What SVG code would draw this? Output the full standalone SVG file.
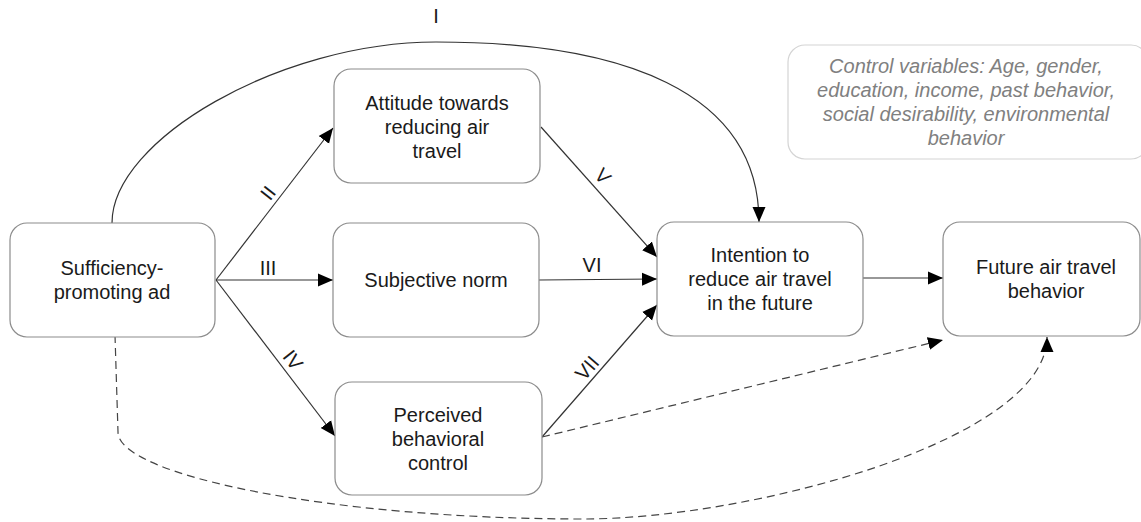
<svg xmlns="http://www.w3.org/2000/svg" width="1141" height="522" viewBox="0 0 1141 522">
<style>
.box{fill:#fff;stroke:#8c8c8c;stroke-width:1.2}
.ctl{fill:#fff;stroke:#d4d4d4;stroke-width:1.2}
.t{font-family:"Liberation Sans",Arial,sans-serif;font-size:20px;fill:#1a1a1a;text-anchor:middle}
.ct{font-family:"Liberation Sans",Arial,sans-serif;font-size:20px;font-style:italic;fill:#808080;text-anchor:middle}
.e{fill:none;stroke:#333;stroke-width:1.2;marker-end:url(#ah)}
.d{fill:none;stroke:#444;stroke-width:1.2;stroke-dasharray:8 5;marker-end:url(#ah)}
.lb{font-family:"Liberation Sans",Arial,sans-serif;font-size:20px;fill:#1a1a1a;text-anchor:middle}
</style>
<defs>
<marker id="ah" markerUnits="userSpaceOnUse" markerWidth="16" markerHeight="14" refX="15" refY="6.5" orient="auto" viewBox="0 0 16 13">
<path d="M0,0 L15,6.5 L0,13 z" fill="#000"/>
</marker>
</defs>
<rect width="1141" height="522" fill="#fff"/>
<g id="connectors">
<path class="e" d="M112,223 C112,140 280,42 436,42 C620,42 759,90 759,222"/>
<path class="e" d="M216,280 L333,128"/>
<path class="e" d="M216,280 L333,280"/>
<path class="e" d="M216,280 L335,436"/>
<path class="e" d="M541,127 L657,257"/>
<path class="e" d="M539,280 L657,279"/>
<path class="e" d="M542,437 L657,305"/>
<path class="e" d="M863,278 L943,278"/>
<path class="d" d="M542,437 L943,340"/>
<path class="d" d="M115,335 L118,432 C118,475 330,519 583,519 C750,519 1047,440 1047,337"/>
<text class="lb" x="436" y="23">I</text>
<text class="lb" x="0" y="0" dy="0.35em" transform="translate(268,193) rotate(-52)">II</text>
<text class="lb" x="268" y="275">III</text>
<text class="lb" x="0" y="0" dy="0.35em" transform="translate(293,360) rotate(52)">IV</text>
<text class="lb" x="0" y="0" dy="0.35em" transform="translate(603,176) rotate(47)">V</text>
<text class="lb" x="592" y="272">VI</text>
<text class="lb" x="0" y="0" dy="0.35em" transform="translate(587,368) rotate(-49)">VII</text>
</g>
<g id="sufficiency">
<rect class="box" x="10" y="223" width="205" height="114" rx="17"/>
<text class="t" x="112" y="275">Sufficiency-</text>
<text class="t" x="112" y="299">promoting ad</text>
</g>
<g id="attitude">
<rect class="box" x="334" y="69" width="206" height="114" rx="17"/>
<text class="t" x="437" y="110">Attitude towards</text>
<text class="t" x="437" y="134">reducing air</text>
<text class="t" x="437" y="158">travel</text>
</g>
<g id="subjective">
<rect class="box" x="333" y="223" width="206" height="114" rx="17"/>
<text class="t" x="436" y="287">Subjective norm</text>
</g>
<g id="perceived">
<rect class="box" x="335" y="382" width="207" height="113" rx="17"/>
<text class="t" x="438" y="422">Perceived</text>
<text class="t" x="438" y="446">behavioral</text>
<text class="t" x="438" y="470">control</text>
</g>
<g id="intention">
<rect class="box" x="657" y="222" width="206" height="114" rx="17"/>
<text class="t" x="760" y="262">Intention to</text>
<text class="t" x="760" y="286">reduce air travel</text>
<text class="t" x="760" y="310">in the future</text>
</g>
<g id="future">
<rect class="box" x="943" y="222" width="197" height="114" rx="17"/>
<text class="t" x="1046" y="274">Future air travel</text>
<text class="t" x="1046" y="298">behavior</text>
</g>
<g id="controls">
<rect class="ctl" x="788" y="45" width="360" height="114" rx="17"/>
<text class="ct" x="966" y="73">Control variables: Age, gender,</text>
<text class="ct" x="966" y="97">education, income, past behavior,</text>
<text class="ct" x="966" y="121">social desirability, environmental</text>
<text class="ct" x="966" y="145">behavior</text>
</g>
</svg>
